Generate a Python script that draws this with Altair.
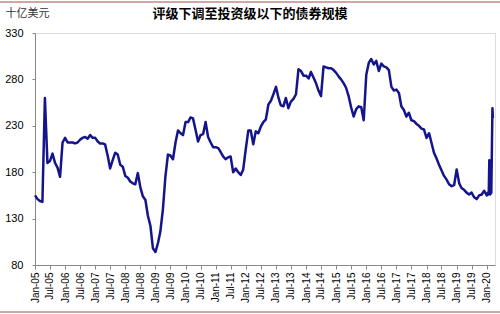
import altair as alt
import pandas as pd

years = list(range(2005, 2020))
v2005 = [155, 151, 149, 148, 260, 190, 192, 200, 190, 185, 175, 212]
v2006 = [217, 212, 212, 212, 211, 212, 215, 217, 218, 216, 220, 217]
v2007 = [217, 213, 211, 211, 210, 198, 184, 193, 201, 199, 188, 186]
v2008 = [176, 174, 170, 168, 167, 179, 164, 154, 150, 133, 122, 98]
v2009 = [94, 104, 116, 140, 175, 199, 198, 194, 212, 225, 222, 220]
v2010 = [234, 234, 239, 238, 226, 213, 220, 221, 234, 218, 212, 207]
v2011 = [207, 206, 202, 197, 194, 196, 197, 180, 184, 180, 177, 183]
v2012 = [205, 225, 225, 210, 224, 222, 229, 234, 237, 253, 257, 264]
v2013 = [272, 260, 252, 251, 260, 249, 256, 259, 264, 291, 289, 284]
v2014 = [284, 281, 288, 282, 276, 268, 262, 294, 293, 292, 292, 290]
v2015 = [287, 283, 280, 276, 271, 262, 250, 240, 248, 251, 250, 236]
v2016 = [285, 298, 302, 296, 300, 289, 297, 294, 293, 290, 272, 268]
v2017 = [269, 265, 251, 247, 240, 244, 236, 235, 232, 230, 227, 226]
v2018 = [217, 222, 212, 201, 195, 188, 182, 176, 172, 167, 165, 166]
v2019 = [183, 168, 163, 161, 158, 156, 158, 153, 151, 155, 156, 160]

tail_dates = ["2020/01/01", "2020/01/15", "2020/01/25", "2020/02/01",
              "2020/02/12", "2020/02/25", "2020/03/10", "2020/03/15"]
tail_vals = [155, 158, 156, 193, 156, 158, 249, 238]

monthly = (v2005 + v2006 + v2007 + v2008 + v2009 + v2010 + v2011 + v2012
           + v2013 + v2014 + v2015 + v2016 + v2017 + v2018 + v2019)
month_dates = [f"{y}/{m:02d}/01" for y in years for m in range(1, 13)]

df = pd.DataFrame({"date": month_dates + tail_dates, "value": monthly + tail_vals})

tick_dates = [alt.DateTime(year=y, month=m, date=1) for y in range(2005, 2021) for m in (1, 7) if not (y == 2020 and m == 7)]

title = "评级下调至投资级以下的债券规模"
unit = "十亿美元"
line_color = "#14148c"

line = alt.Chart(df).mark_line(color=line_color, strokeWidth=2.5, strokeJoin="round").encode(
    x=alt.X("date:T",
            scale=alt.Scale(domain=[alt.DateTime(year=2005, month=1, date=1),
                                    alt.DateTime(year=2020, month=4, date=10)], nice=False),
            axis=alt.Axis(values=tick_dates, format="%b-%y", labelAngle=-90, labelAlign="right",
                          labelBaseline="middle", labelFontSize=10, labelPadding=3,
                          tickSize=4, title=None, grid=False, labelOverlap=False)),
    y=alt.Y("value:Q",
            scale=alt.Scale(domain=[80, 330], nice=False, zero=False),
            axis=alt.Axis(values=[80, 130, 180, 230, 280, 330], tickSize=3, labelPadding=9,
                          labelFontSize=11, grid=False, title=unit, titleAngle=0,
                          titleAlign="left", titleBaseline="middle", titleX=-30, titleY=-20,
                          titleFont="Noto Sans CJK SC", titleFontSize=11,
                          titleFontWeight="normal", titleColor="#333333")),
)

title_df = pd.DataFrame({"t": [title]})
title_mark = alt.Chart(title_df).mark_text(
    font="Noto Sans CJK SC", fontSize=13, fontWeight="bold", align="center",
    baseline="middle", color="#000000").encode(
    text="t:N", x=alt.value(215), y=alt.value(-19))

top_rule = alt.Chart(title_df).mark_rule(color="#c08a8a", strokeWidth=1.5).encode(
    x=alt.value(-35), x2=alt.value(465), y=alt.value(-31))
bottom_rule = alt.Chart(title_df).mark_rule(color="#c08a8a", strokeWidth=1.5).encode(
    x=alt.value(-35), x2=alt.value(465), y=alt.value(279))

chart = alt.layer(line, title_mark, top_rule, bottom_rule).properties(
    width=460, height=232,
    autosize=alt.AutoSizeParams(type="none"),
    padding={"left": 35, "top": 33, "right": 5, "bottom": 49},
).configure_view(stroke=None).configure_axis(
    domainColor="#8c8c8c", tickColor="#8c8c8c", labelColor="#333333",
    labelFont="Liberation Sans",
).configure(background="white")

chart.save("out.html", embed_options={"renderer": "svg", "actions": False})
